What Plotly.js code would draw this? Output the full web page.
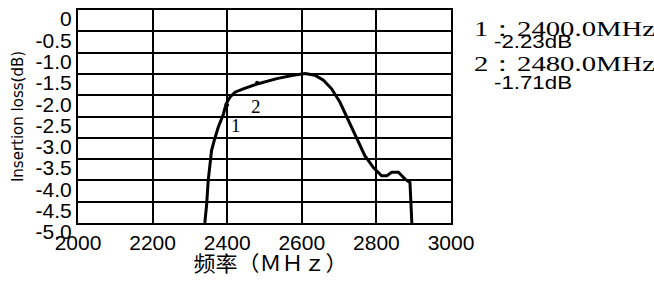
<!DOCTYPE html>
<html>
<head>
<meta charset="utf-8">
<script src="https://cdn.plot.ly/plotly-3.0.1.min.js"></script>
<style>
html,body{margin:0;padding:0;background:#fff;}
#chart{width:654px;height:281px;}
</style>
</head>
<body>
<div id="chart"></div>
<script>
// Frequency (MHz) and insertion loss (dB)
var freq = [2340, 2345, 2349, 2354, 2358, 2365, 2376, 2390, 2397, 2408, 2421, 2443, 2483, 2533, 2577, 2609, 2635, 2658, 2680, 2702, 2725, 2747, 2769, 2792, 2814, 2828, 2841, 2859, 2877, 2890, 2895];
var loss = [-5.0, -4.56, -4.01, -3.54, -3.30, -3.07, -2.75, -2.44, -2.20, -2.04, -1.93, -1.85, -1.73, -1.61, -1.53, -1.49, -1.53, -1.65, -1.85, -2.16, -2.59, -3.03, -3.42, -3.70, -3.89, -3.89, -3.81, -3.81, -3.97, -4.05, -5.0];

// Markers
var markerIds = ['1', '2'];
var markerFreq = [2400.0, 2480.0];
var markerLoss = [-2.23, -1.71];

// Axis ticks
var xTicks = [2000, 2200, 2400, 2600, 2800, 3000];
var yTicks = [0, -0.5, -1.0, -1.5, -2.0, -2.5, -3.0, -3.5, -4.0, -4.5, -5.0];
var yTickText = ['0', '-0.5', '-1.0', '-1.5', '-2.0', '-2.5', '-3.0', '-3.5', '-4.0', '-4.5', '-5.0'];

var xTitle = '频率（ＭＨｚ）';
var yTitle = 'Insertion loss(dB)';

var traces = [
  {x: freq, y: loss, type: 'scatter', mode: 'lines',
   line: {color: '#000', width: 3}, hoverinfo: 'skip', cliponaxis: false},
  {x: markerFreq, y: markerLoss, type: 'scatter', mode: 'markers',
   marker: {color: '#000', size: 4}, hoverinfo: 'skip'}
];

var annotations = [];
// marker number labels near the curve
var labelOffsets = [[24, -0.48], [-3, -0.55]];
for (var i = 0; i < markerIds.length; i++) {
  annotations.push({
    x: markerFreq[i] + labelOffsets[i][0], y: markerLoss[i] + labelOffsets[i][1],
    xref: 'x', yref: 'y', text: markerIds[i], showarrow: false,
    font: {family: 'Liberation Serif, serif', size: 19, color: '#000'}
  });
}
// marker readouts on the right
var readY = [[0.911, 0.850], [0.746, 0.657]];
var readX = [1.056, 1.11];
for (var j = 0; j < markerIds.length; j++) {
  annotations.push({
    x: readX[0], y: readY[j][0], xref: 'paper', yref: 'paper', xanchor: 'left', yanchor: 'middle',
    text: markerIds[j] + '：' + markerFreq[j].toFixed(1) + 'MHz', showarrow: false,
    font: {family: 'Liberation Serif, serif', size: 21, color: '#000'}
  });
  annotations.push({
    x: readX[1], y: readY[j][1], xref: 'paper', yref: 'paper', xanchor: 'left', yanchor: 'middle',
    text: markerLoss[j].toFixed(2) + 'dB', showarrow: false,
    font: {family: 'Liberation Sans, sans-serif', size: 18, color: '#000'}
  });
}
annotations.push({
  x: 0.515, y: -0.183, xref: 'paper', yref: 'paper', xanchor: 'center', yanchor: 'middle',
  text: xTitle, showarrow: false,
  font: {family: 'Noto Sans CJK SC, sans-serif', size: 21, color: '#000'}
});

var layout = {
  width: 654, height: 281,
  margin: {l: 78, r: 203, t: 10, b: 58},
  paper_bgcolor: '#fff', plot_bgcolor: '#fff',
  showlegend: false,
  font: {family: 'Liberation Sans, sans-serif', color: '#000'},
  xaxis: {
    range: [2000, 3000], tickvals: xTicks, ticktext: xTicks.map(String),
    showgrid: true, gridcolor: '#000', gridwidth: 2, zeroline: false,
    showline: true, mirror: true, linecolor: '#000', linewidth: 2,
    ticks: '', ticklabelstandoff: 0,
    tickfont: {family: 'Liberation Sans, sans-serif', size: 21, color: '#000'},
    fixedrange: true
  },
  yaxis: {
    range: [-5, 0], tickvals: yTicks, ticktext: yTickText,
    showgrid: true, gridcolor: '#000', gridwidth: 2, zeroline: false,
    showline: true, mirror: true, linecolor: '#000', linewidth: 2,
    ticks: '', ticklabelstandoff: 0, ticklabelshift: 9,
    tickfont: {family: 'Liberation Sans, sans-serif', size: 21, color: '#000'},
    title: {text: yTitle, standoff: 8, font: {family: 'DejaVu Sans, sans-serif', size: 15, color: '#000'}},
    fixedrange: true
  },
  annotations: annotations
};

Plotly.newPlot('chart', traces, layout, {staticPlot: true, displayModeBar: false}).then(function (gd) {
  // stretch the right-hand readout texts to the widths seen in the reference
  var widths = {}, leftFixed = {};
  for (var k = 0; k < markerIds.length; k++) {
    var t1 = markerIds[k] + '：' + markerFreq[k].toFixed(1) + 'MHz';
    var t2 = markerLoss[k].toFixed(2) + 'dB';
    widths[t1] = 181; leftFixed[t1] = true;
    widths[t2] = 78; leftFixed[t2] = true;
  }
  widths[xTitle] = 154;
  gd.querySelectorAll('text.annotation-text').forEach(function (t) {
    var w = widths[t.textContent];
    if (w) {
      if (leftFixed[t.textContent]) {
        var bb = t.getBBox();
        t.setAttribute('text-anchor', 'start');
        t.setAttribute('x', bb.x);
      }
      t.setAttribute('textLength', w);
      t.setAttribute('lengthAdjust', 'spacingAndGlyphs');
    }
  });
});
</script>
</body>
</html>
